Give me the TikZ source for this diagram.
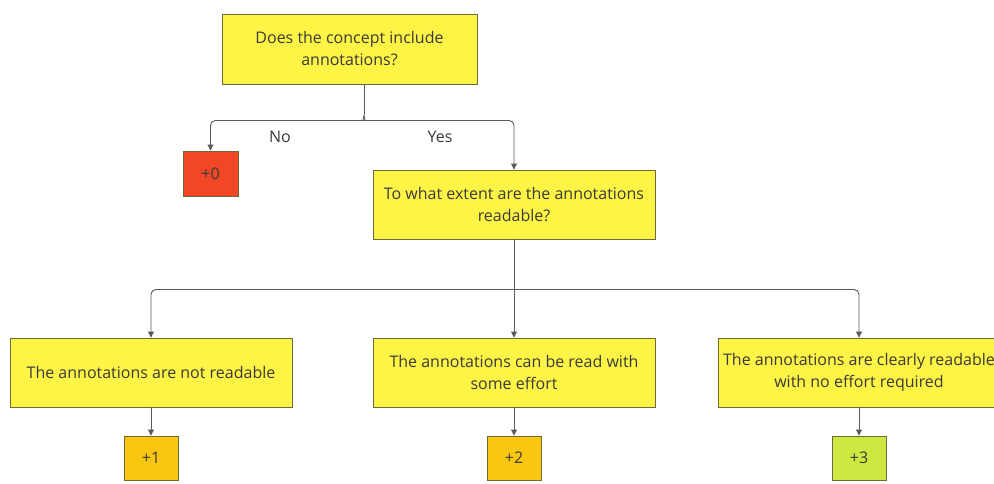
\documentclass[tikz,border=0pt]{standalone}
\usepackage{fontspec}
\setmainfont{Open Sans}
\usetikzlibrary{arrows.meta}
\definecolor{boxyellow}{HTML}{FEF445}
\definecolor{boxred}{HTML}{F24726}
\definecolor{boxorange}{HTML}{FAC710}
\definecolor{boxgreen}{HTML}{CEE741}
\definecolor{edgecol}{HTML}{6B6B3A}
\definecolor{txtcol}{HTML}{3A3A3A}
\definecolor{linecol}{HTML}{5A5A5A}
\tikzset{
  qbox/.style={draw=edgecol, line width=0.9pt, fill=boxyellow, minimum width=282pt, minimum height=69pt, align=center, text=txtcol, font=\fontsize{16}{22}\selectfont, inner sep=0pt},
  sbox/.style={draw=edgecol, line width=0.9pt, minimum width=55pt, minimum height=45pt, text=txtcol, font=\fontsize{16}{20}\selectfont, inner sep=0pt},
  conn/.style={draw=linecol, line width=0.9pt, rounded corners=5pt, -{Triangle[length=6pt,width=6pt]}},
  stem/.style={draw=linecol, line width=0.9pt},
  lbl/.style={text=txtcol, font=\fontsize{16}{20}\selectfont},
}
\begin{document}
\begin{tikzpicture}[x=1pt,y=-1pt]
\path[use as bounding box] (0,0) rectangle (994,483);
\clip (0,0) rectangle (994,483);
\fill[white] (0,0) rectangle (994,483);
\node[qbox, minimum width=255pt, minimum height=70pt] (top) at (349.5,49) {Does the concept include\\annotations?};
\node[sbox, fill=boxred] (z) at (210.5,173.5) {+0};
\node[qbox] (q2) at (514,204.5) {To what extent are the annotations\\readable?};
\node[qbox] (b1) at (151,372.5) {The annotations are not readable};
\node[qbox] (b2) at (514,372.5) {The annotations can be read with\\some effort};
\node[qbox] (b3) at (859,372.5) {The annotations are clearly readable\\with no effort required};
\node[sbox, fill=boxorange, minimum width=54pt, minimum height=44pt] (p1) at (151,458) {+1};
\node[sbox, fill=boxorange, minimum width=54pt, minimum height=44pt] (p2) at (514,458) {+2};
\node[sbox, fill=boxgreen, minimum width=54pt, minimum height=44pt] (p3) at (859,458) {+3};
\coordinate (t0) at ([xshift=14.5pt]top.south);
\coordinate (j1) at ([yshift=-36pt]t0);
\coordinate (j1a) at ([yshift=-31pt]t0);
\draw[stem] (t0) -- (j1a);
\draw[conn] (j1a) to[out=-90,in=0] ([xshift=-5pt]j1) -| (z.north);
\draw[conn] (j1a) to[out=-90,in=180] ([xshift=5pt]j1) -| (q2.north);
\coordinate (j2) at ([yshift=-50pt]q2.south);
\draw[stem] (q2.south) -- (j2);
\draw[conn] (j2) -| (b1.north);
\draw[conn] (j2) -- (b2.north);
\draw[conn] (j2) -| (b3.north);
\draw[conn] (b1.south) -- (p1.north);
\draw[conn] (b2.south) -- (p2.north);
\draw[conn] (b3.south) -- (p3.north);
\node[lbl] (no) at (280,137) {No};
\node[lbl] (yes) at (440,137) {Yes};
\end{tikzpicture}
\end{document}
